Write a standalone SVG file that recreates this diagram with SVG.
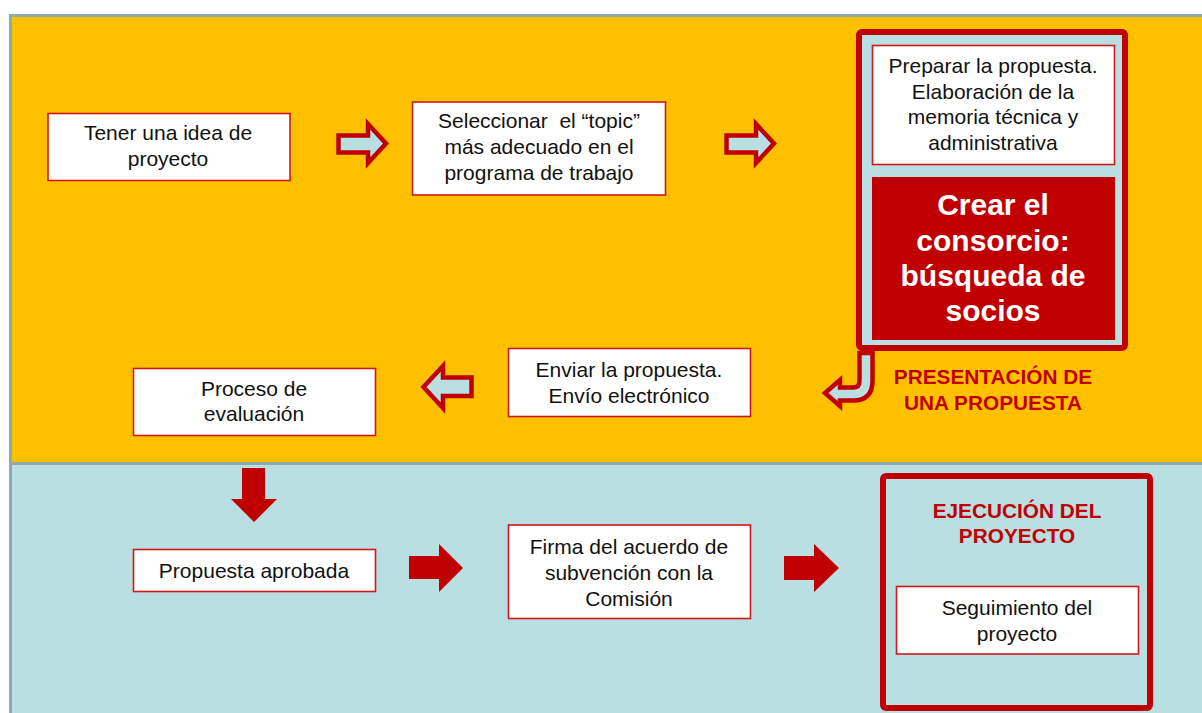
<svg xmlns="http://www.w3.org/2000/svg" width="1202" height="713" viewBox="0 0 1202 713">
<style>
.box{fill:#FFFFFF;stroke:#D01818;stroke-width:1.6}
.t{font-family:"Liberation Sans",Arial,sans-serif;font-size:21px;fill:#111111;text-anchor:middle}
.rt{font-family:"Liberation Sans",Arial,sans-serif;font-size:20.8px;font-weight:bold;fill:#C00000;text-anchor:middle}
.wt{font-family:"Liberation Sans",Arial,sans-serif;font-size:30px;font-weight:bold;fill:#FFFFFF;text-anchor:middle}
.oarrow{fill:#B9DFE2;stroke:#C00000;stroke-width:4.5;stroke-linejoin:miter}
.sarrow{fill:#C00000}
.frame{fill:#B9DFE2;stroke:#C00000;stroke-width:6}
</style>
<rect x="0" y="0" width="1202" height="713" fill="#FFFFFF"/>
<!-- panels -->
<rect x="10.5" y="15.5" width="1194" height="448" fill="#FFC000" stroke="#8FAAAC" stroke-width="3"/>
<rect x="10.5" y="463.5" width="1194" height="252" fill="#B9DFE2" stroke="#8FAAAC" stroke-width="3"/>

<g id="connectors">
<polygon class="oarrow" points="338.5,135.5 368,135.5 368,124 386,143.5 368,163 368,152.5 338.5,152.5"/>
<polygon class="oarrow" points="726.5,135.5 756,135.5 756,124 774,143.5 756,163 756,152.5 726.5,152.5"/>
<polygon class="oarrow" points="471.5,377.5 443,377.5 443,366 423.5,387 443,408 443,396 471.5,396"/>
<path class="oarrow" stroke-width="3.5" d="M859.5 353 L872.5 353 L872.5 381 Q872.5 400.5 853 400.5 L840 400.5 L840 406 L825 393 L840 380 L840 387.5 L853 387.5 Q859.5 387.5 859.5 381 Z"/>
<polygon class="sarrow" points="242,468 265,468 265,499 277,499 254,522 231,499 242,499"/>
<polygon class="sarrow" points="409,556 439,556 439,544 463,568 439,592 439,579 409,579"/>
<polygon class="sarrow" points="784,556 814,556 814,544 839,568 814,592 814,580 784,580"/>
</g>

<g id="n1">
<rect class="box" x="48" y="113.5" width="242" height="67"/>
<text class="t" x="168" y="140">Tener una idea de</text>
<text class="t" x="168" y="166">proyecto</text>
</g>

<g id="n2">
<rect class="box" x="412.5" y="102" width="253" height="93"/>
<text class="t" x="539" y="128" xml:space="preserve">Seleccionar  el “topic”</text>
<text class="t" x="539" y="154">más adecuado en el</text>
<text class="t" x="539" y="180">programa de trabajo</text>
</g>

<g id="n3">
<rect class="frame" x="859" y="32" width="266" height="316" rx="3"/>
<rect class="box" x="872.5" y="45.5" width="242" height="119"/>
<text class="t" x="993" y="73">Preparar la propuesta.</text>
<text class="t" x="993" y="99">Elaboración de la</text>
<text class="t" x="993" y="124">memoria técnica y</text>
<text class="t" x="993" y="150">administrativa</text>
<rect x="872" y="177" width="243" height="163" fill="#C00000"/>
<text class="wt" x="993" y="215">Crear el</text>
<text class="wt" x="993" y="251">consorcio:</text>
<text class="wt" x="993" y="286">búsqueda de</text>
<text class="wt" x="993" y="321">socios</text>
</g>

<g id="label-presentacion">
<text class="rt" x="993" y="384">PRESENTACIÓN DE</text>
<text class="rt" x="993" y="410">UNA PROPUESTA</text>
</g>

<g id="n4">
<rect class="box" x="508.5" y="348.5" width="242" height="68"/>
<text class="t" x="629" y="377">Enviar la propuesta.</text>
<text class="t" x="629" y="403">Envío electrónico</text>
</g>

<g id="n5">
<rect class="box" x="133.5" y="368.5" width="242" height="67"/>
<text class="t" x="254" y="396">Proceso de</text>
<text class="t" x="254" y="421">evaluación</text>
</g>

<g id="n6">
<rect class="box" x="133.5" y="549.5" width="242" height="42"/>
<text class="t" x="254" y="578">Propuesta aprobada</text>
</g>

<g id="n7">
<rect class="box" x="508.5" y="525" width="242" height="93.5"/>
<text class="t" x="629" y="554">Firma del acuerdo de</text>
<text class="t" x="629" y="580">subvención con la</text>
<text class="t" x="629" y="606">Comisión</text>
</g>

<g id="n8">
<rect class="frame" x="883" y="476" width="267" height="232" rx="3"/>
<text class="rt" x="1017" y="518">EJECUCIÓN DEL</text>
<text class="rt" x="1017" y="543">PROYECTO</text>
<rect class="box" x="896.5" y="586.5" width="242" height="67.5"/>
<text class="t" x="1017" y="615">Seguimiento del</text>
<text class="t" x="1017" y="641">proyecto</text>
</g>
</svg>
